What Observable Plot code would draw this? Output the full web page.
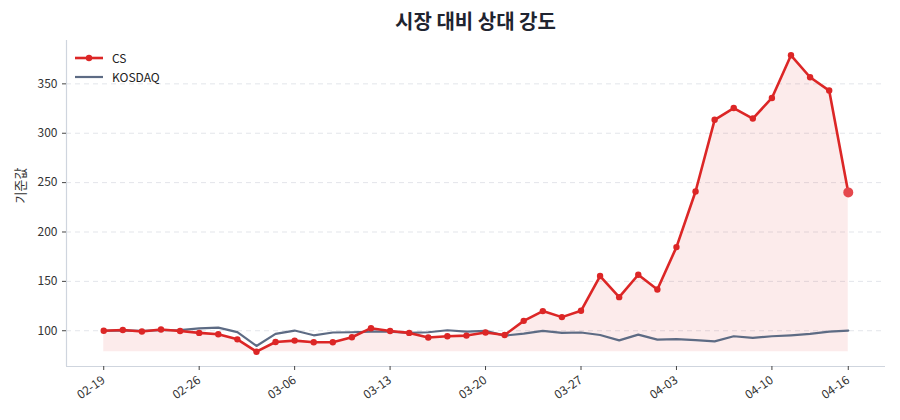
<!DOCTYPE html>
<html>
<head>
<meta charset="utf-8">
<script src="https://cdn.jsdelivr.net/npm/d3@7"></script>
<script src="https://cdn.jsdelivr.net/npm/@observablehq/plot@0.6"></script>
<style>
  body { margin: 0; background: #fff; font-family: "Noto Sans CJK KR", "Noto Sans", sans-serif; }
  #wrap { position: relative; width: 900px; height: 420px; }
  #title { height: 38px; margin-left: 66px; width: 819px; text-align: center;
           font-size: 20px; font-weight: 700; color: #1f2430; line-height: 42px; }
  #legend { position: absolute; left: 75px; top: 48px; font-size: 12px; color: #222; }
  #legend .item { display: flex; align-items: center; height: 19px; }
  #legend svg { margin-right: 9px; }
</style>
</head>
<body>
<div id="wrap">
  <div id="title">시장 대비 상대 강도</div>
  <div id="chart"></div>
  <div id="legend"></div>
</div>
<script>
// Trading days (MM-DD)
const dates = ["02-19","02-20","02-23","02-24","02-25","02-26","02-27","03-03","03-04","03-05",
               "03-06","03-09","03-10","03-11","03-12","03-13","03-16","03-17","03-18","03-19",
               "03-20","03-23","03-24","03-25","03-26","03-27","03-30","03-31","04-01","04-02",
               "04-03","04-06","04-07","04-08","04-09","04-10","04-13","04-14","04-15","04-16"];

// Indexed to 100 on the first day
const csValues = [100, 100.8, 99.2, 101.2, 99.8, 97.8, 96.4, 91.3, 78.8, 88.6,
                  90, 88.3, 88.3, 93.4, 102.6, 99.8, 97.8, 93.1, 94.4, 95.1,
                  98.2, 95.7, 110, 119.9, 113.8, 120.2, 155.4, 134, 156.7, 141.8,
                  184.7, 241, 313.6, 325.5, 314.9, 335.7, 378.9, 356.7, 343.2, 240.1];

const kosdaqValues = [100, 100.3, 99.8, 100.5, 100.6, 102.4, 103.1, 98.6, 84.6, 96.8,
                      100.2, 95.4, 98.2, 98.5, 99.2, 99.2, 97.8, 98.5, 100.5, 99.2,
                      99.8, 95.1, 97.1, 99.8, 97.8, 98.2, 95.7, 90.3, 96.1, 91,
                      91.6, 90.6, 89.3, 94.4, 92.7, 94.4, 95.4, 96.8, 99.2, 100.2];

const seriesNames = ["CS", "KOSDAQ"];
const yTicks = [100, 150, 200, 250, 300, 350];
const xTickIndex = [0, 5, 10, 15, 20, 25, 30, 35, 39];

const RED = "#dc2626";
const SLATE = "#5d6b84";

const rows = dates.map((d, i) => ({i, date: d, cs: csValues[i], kosdaq: kosdaqValues[i]}));
const last = rows.slice(-1);

// 5% padding around the data, like the usual default axis margins
const all = csValues.concat(kosdaqValues);
const lo = d3.min(all), hi = d3.max(all);
const pad = (hi - lo) * 0.05;
const yDomain = [lo - pad, hi + pad];
const n = dates.length - 1;
const xDomain = [-n * 0.05, n * 1.05];
const csMin = d3.min(csValues);

const chart = Plot.plot({
  width: 900,
  height: 382,
  marginTop: 2,
  marginBottom: 54,
  marginLeft: 66,
  marginRight: 15,
  style: {fontFamily: "'Noto Sans CJK KR', 'Noto Sans', sans-serif", fontSize: "12px", color: "#333", background: "#fff"},
  x: {domain: xDomain, ticks: xTickIndex, tickFormat: i => dates[i], tickRotate: -35, tickSize: 4, label: null},
  y: {domain: yDomain, ticks: yTicks, tickSize: 4, label: null},
  marks: [
    Plot.gridY(yTicks, {stroke: "#e3e5ea", strokeOpacity: 1, strokeDasharray: "5,4"}),
    Plot.areaY(rows, {x: "i", y1: csMin, y2: "cs", fill: RED, fillOpacity: 0.09}),
    Plot.lineY(rows, {x: "i", y: "kosdaq", stroke: SLATE, strokeWidth: 2.2}),
    Plot.lineY(rows, {x: "i", y: "cs", stroke: RED, strokeWidth: 2.6}),
    Plot.dot(rows.slice(0, -1), {x: "i", y: "cs", r: 3.2, fill: RED}),
    Plot.dot(last, {x: "i", y: "cs", r: 5, fill: "#e5484d"}),
    Plot.ruleX([xDomain[0]], {stroke: "#cfd5de", strokeWidth: 1.2}),
    Plot.ruleY([yDomain[0]], {stroke: "#cfd5de", strokeWidth: 1.2}),
    Plot.axisX({ticks: xTickIndex, tickFormat: i => dates[i], tickRotate: -35, tickSize: 4, stroke: "#444", label: null}),
    Plot.axisY({ticks: yTicks, tickSize: 4, stroke: "#444", label: null}),
    Plot.text(["기준값"], {frameAnchor: "left", dx: -46, rotate: -90, fontSize: 13, fill: "#333"})
  ]
});
document.getElementById("chart").appendChild(chart);

// Legend
const legend = document.getElementById("legend");
const colors = [RED, SLATE];
seriesNames.forEach((name, k) => {
  const item = document.createElement("div");
  item.className = "item";
  const dot = k === 0 ? `<circle cx="14" cy="5" r="3.2" fill="${colors[k]}"/>` : "";
  item.innerHTML = `<svg width="28" height="10"><line x1="0" x2="28" y1="5" y2="5" stroke="${colors[k]}" stroke-width="${k === 0 ? 2.6 : 2.2}"/>${dot}</svg><span>${name}</span>`;
  legend.appendChild(item);
});
</script>
</body>
</html>
